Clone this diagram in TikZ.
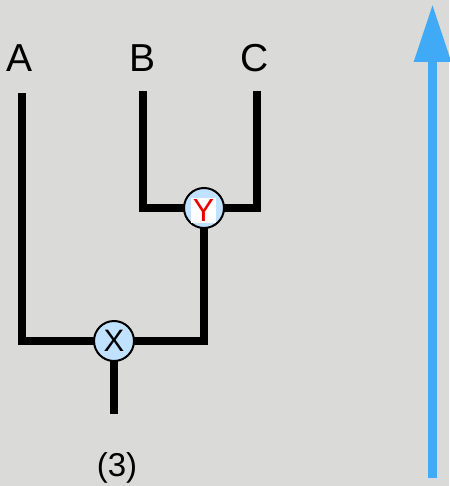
\documentclass[tikz,border=0pt]{standalone}
\usepackage{fontspec}
\setmainfont{Liberation Sans}
\usetikzlibrary{arrows.meta,backgrounds}
\definecolor{paper}{RGB}{218,219,216}
\definecolor{joint}{RGB}{192,226,255}
\definecolor{timeblue}{RGB}{64,170,246}
\definecolor{mark}{RGB}{235,0,0}
\tikzset{
  branch/.style={line width=7.5pt, line join=miter, black},
  joinnode/.style={circle, draw=black, line width=2pt, fill=joint,
    minimum size=40pt, inner sep=0pt},
  leaflabel/.style={anchor=base, font=\fontsize{39}{39}\selectfont},
}
\begin{document}
\begin{tikzpicture}[x=1pt, y=-1pt]
  \useasboundingbox (0,0) rectangle (449,486);

  % taxon labels and branch tips
  \node[leaflabel] (la) at (20,72) {A};
  \node[leaflabel] (lb) at (143,72) {B};
  \node[leaflabel] (lc) at (255,72) {C};
  \coordinate (tipA) at (22,93);
  \coordinate (tipB) at (143,91);
  \coordinate (tipC) at (257,91);
  \coordinate (root) at (114,414);

  % internal nodes
  \node[joinnode] (y) at (204,208) {};
  \node[fill=white, text=mark, inner sep=0pt, minimum width=25pt, minimum height=25pt,
        font=\fontsize{32}{32}\selectfont] (ylab) at (203.5,210.5) {\raisebox{-1pt}{Y}};
  \node[joinnode, font=\fontsize{31}{31}\selectfont] (x) at (114,341) {\raisebox{-4pt}{X}};

  % paper and branches, kept under the nodes
  \begin{scope}[on background layer]
    \fill[paper] (0,0) rectangle (449,486);
    \draw[branch] (tipA) |- (x.center);
    \draw[branch] (x.center) -| (y.center);
    \draw[branch] (x.center) -- (root);
    \draw[branch] (tipB) |- (y.center);
    \draw[branch] (tipC) |- (y.center);
  \end{scope}

  \node[anchor=base, font=\fontsize{33}{33}\selectfont] (count) at (117,476.5) {(3)};

  % time axis
  \coordinate (tbase) at (432.5,478);
  \coordinate (ttop) at (432.5,4);
  \draw[timeblue, line width=9pt, -{Triangle[width=35pt, length=58pt]}] (tbase) -- (ttop);
\end{tikzpicture}
\end{document}
